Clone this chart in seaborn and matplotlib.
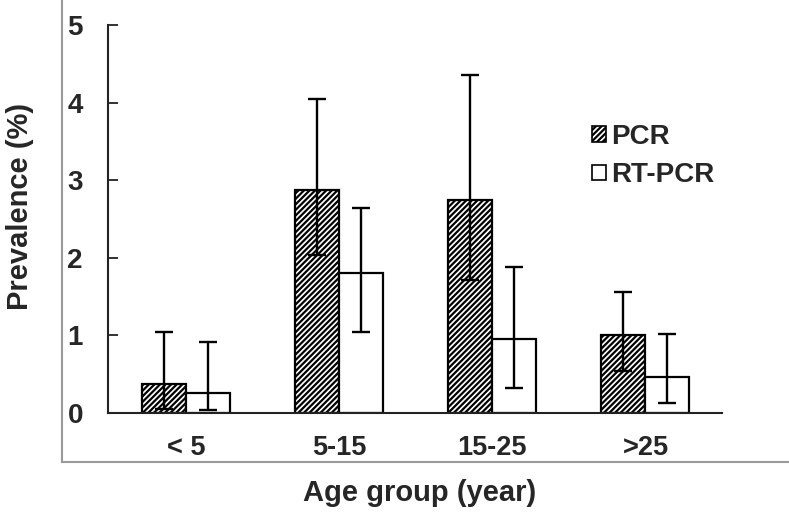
import pandas as pd
import seaborn as sns
import matplotlib.pyplot as plt
from matplotlib.patches import Patch

# values
groups = ["< 5", "5-15", "15-25", ">25"]
methods = ["PCR", "RT-PCR"]

pcr = [0.38, 2.87, 2.75, 1.00]
pcr_low = [0.05, 2.04, 1.71, 0.54]
pcr_high = [1.04, 4.05, 4.35, 1.56]

rt = [0.26, 1.80, 0.96, 0.46]
rt_low = [0.04, 1.04, 0.32, 0.13]
rt_high = [0.92, 2.64, 1.88, 1.02]

y_ticks = [0, 1, 2, 3, 4, 5]

df = pd.DataFrame({
    "group": groups * 2,
    "method": [methods[0]] * len(groups) + [methods[1]] * len(groups),
    "value": pcr + rt,
})

sns.set_style("white")
plt.rcParams['font.family'] = ['Liberation Sans', 'DejaVu Sans']
plt.rcParams['font.weight'] = 'bold'
plt.rcParams['hatch.linewidth'] = 1.6

fig = plt.figure(figsize=(7.89, 5.15), dpi=100)

# outer grey frame carrying the axis titles
outer = fig.add_axes([62 / 789, 53 / 515, 727 / 789, 462 / 515])
outer.set_facecolor('none')
outer.set_xticks([])
outer.set_yticks([])
for s in ['top', 'right']:
    outer.spines[s].set_visible(False)
for s in ['left', 'bottom']:
    outer.spines[s].set_color('#9a9a9a')
    outer.spines[s].set_linewidth(1.5)
outer.set_xlabel("Age group (year)", fontsize=21, fontweight='bold')
outer.xaxis.set_label_coords(0.492, -0.067)
outer.xaxis.label.set_va('center')
outer.set_ylabel("Prevalence (%)", fontsize=21, fontweight='bold')
outer.yaxis.set_label_coords(-0.058, 0.554)
outer.yaxis.label.set_va('center')

# inner data axes
ax = fig.add_axes([108 / 789, 102 / 515, 614 / 789, 388 / 515])
ax.set_facecolor('none')
sns.barplot(data=df, x="group", y="value", hue="method", order=groups,
            hue_order=methods, width=0.575, palette=['white', 'white'],
            edgecolor='black', linewidth=1.6, errorbar=None, legend=False, ax=ax)

for bar in ax.containers[0]:
    bar.set_hatch('//////')

means = [pcr, rt]
lows = [pcr_low, rt_low]
highs = [pcr_high, rt_high]
for cont, m, lo, hi in zip(ax.containers, means, lows, highs):
    xs = [p.get_x() + p.get_width() / 2 for p in cont]
    err = [[a - b for a, b in zip(m, lo)], [b - a for a, b in zip(m, hi)]]
    ax.errorbar(xs, m, yerr=err, fmt='none', ecolor='black', elinewidth=1.7,
                capsize=6.5, capthick=1.7, zorder=5)

ax.set_xlim(-0.51, 3.5)
ax.set_ylim(0, 5)
ax.set_yticks(y_ticks)
ax.set_xlabel("")
ax.set_ylabel("")
for s in ['top', 'right']:
    ax.spines[s].set_visible(False)
for s in ['left', 'bottom']:
    ax.spines[s].set_color('#222222')
    ax.spines[s].set_linewidth(1.5)
ax.tick_params(axis='y', direction='in', length=7, width=1.3, color='#222222',
               pad=18, labelsize=20, left=True)
ax.tick_params(axis='x', length=0, pad=16, labelsize=19.5)
for lab in ax.get_xticklabels() + ax.get_yticklabels():
    lab.set_fontweight('bold')

handles = [Patch(facecolor='white', edgecolor='black', hatch='//////', linewidth=1.2),
           Patch(facecolor='white', edgecolor='black', linewidth=1.2)]
ax.legend(handles, methods, loc='upper left', bbox_to_anchor=(0.788, 0.745),
          frameon=False, handlelength=0.5, handleheight=0.5,
          handletextpad=0.2, labelspacing=0.45, borderpad=0, borderaxespad=0,
          prop={'weight': 'bold', 'size': 20})

fig.savefig("out.png", dpi=100)
